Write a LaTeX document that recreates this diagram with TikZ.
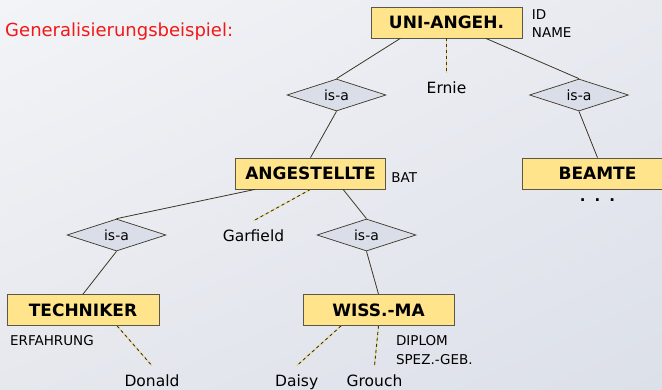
\documentclass[tikz,border=0pt]{standalone}
\usepackage{fontspec}
\setmainfont{DejaVu Sans}
\usepackage{xcolor}
\definecolor{entityFill}{HTML}{FFE48C}
\definecolor{entityLine}{HTML}{5A5648}
\definecolor{isaFill}{HTML}{DADEE8}
\definecolor{linkLine}{HTML}{3B3524}
\definecolor{memberLight}{HTML}{EFD25E}
\definecolor{titleRed}{HTML}{F01818}
\definecolor{bgA}{HTML}{F3F4F7}
\definecolor{bgB}{HTML}{E8EAF0}
\definecolor{bgC}{HTML}{E6E8EE}
\definecolor{bgD}{HTML}{DCE0E9}
\usetikzlibrary{%
    shapes,
    shadings,
    positioning,
    calc
}

\begin{document}
\begin{tikzpicture}[x=1pt, y=-1pt,
                entity/.style={rectangle, minimum width=151pt, minimum height=31pt, text centered, fill=entityFill, draw=entityLine, line width=0.8pt, font=\fontsize{17}{20}\selectfont\bfseries},
                isa/.style={diamond, aspect=3, minimum width=99pt, minimum height=32pt, inner sep=0pt, fill=isaFill, draw=linkLine, line width=0.7pt, font=\fontsize{14}{16}\selectfont},
                instance/.style={draw=none, inner sep=9pt, text height=11pt, text depth=3pt, font=\fontsize{15.5}{18}\selectfont},
                attr/.style={draw=none, align=left, font=\fontsize{13.5}{18}\selectfont},
                link/.style={draw=linkLine, line width=0.8pt},
                member/.style={draw=memberLight, line width=0.9pt, postaction={draw=linkLine, line width=0.9pt, dash pattern=on 3pt off 3pt}}
            ]

            \clip (0,0) rectangle (662,389);
            \shade[upper left=bgA, upper right=bgB, lower left=bgC, lower right=bgD] (0,0) rectangle (662,389);

            \node (title) [anchor=base west, text=titleRed, font=\fontsize{18}{20}\selectfont] at (1.7,36.7) {Generalisierungsbeispiel:};

            \node (uni) [entity] at (446.5,22.5) {UNI-ANGEH.};
            \node (uniattr) [attr, below right=0pt and 6pt of uni.north east] {ID\\NAME};
            \node (ernie) [instance] at (446.5,89.5) {Ernie};

            \node (isaang) [isa] at (336.5,95) {is-a};
            \node (isabea) [isa] at (579,95) {is-a};

            \node (ang) [entity, minimum width=150pt] at (310.5,173.5) {ANGESTELLTE};
            \node (angattr) [attr, above right=3pt and 2pt of ang.south east] {BAT};
            \node (bea) [entity] at (597.5,173.5) {BEAMTE};
            \node (beadots) [draw=none, below=6pt of bea, font=\fontsize{15}{18}\selectfont\bfseries] {.\hspace{9pt}.\hspace{9pt}.};

            \node (isatech) [isa] at (116.5,235) {is-a};
            \node (garfield) [instance] at (253.5,237) {Garfield};
            \node (isawiss) [isa] at (366.5,235) {is-a};

            \node (tech) [entity, minimum width=152pt] at (83,310) {TECHNIKER};
            \node (techattr) [attr, below right=6pt and 0pt of tech.south west] {ERFAHRUNG};
            \node (wiss) [entity] at (378.5,310) {WISS.-MA};
            \node (wissattr) [attr, below right=6pt and 14pt of wiss.south, font=\fontsize{13.5}{19.5}\selectfont] {DIPLOM\\SPEZ.-GEB.};

            \node (donald) [instance] at (152,382) {Donald};
            \node (daisy) [instance] at (296.7,382) {Daisy};
            \node (grouch) [instance] at (374.5,382) {Grouch};

            \draw [link] (uni.199) -- (isaang.north);
            \draw [link] (uni.338) -- (isabea.north);
            \draw [member] (uni.south) -- (ernie.north);
            \draw [link] (isaang.south) -- (ang.north);
            \draw [link] (isabea.south) -- (bea.north);
            \draw [link] (ang.196) -- (isatech.north);
            \draw [link] (ang.334) -- (isawiss.north);
            \draw [member] (ang.south) -- (garfield.north);
            \draw [link] (isatech.south) -- (tech.north);
            \draw [link] (isawiss.south) -- (wiss.north);
            \draw [member] (tech.335) -- (donald.north);
            \draw [member] (wiss.203) -- (daisy.north);
            \draw [member] (wiss.south) -- (grouch.north);
        \end{tikzpicture}
\end{document}
